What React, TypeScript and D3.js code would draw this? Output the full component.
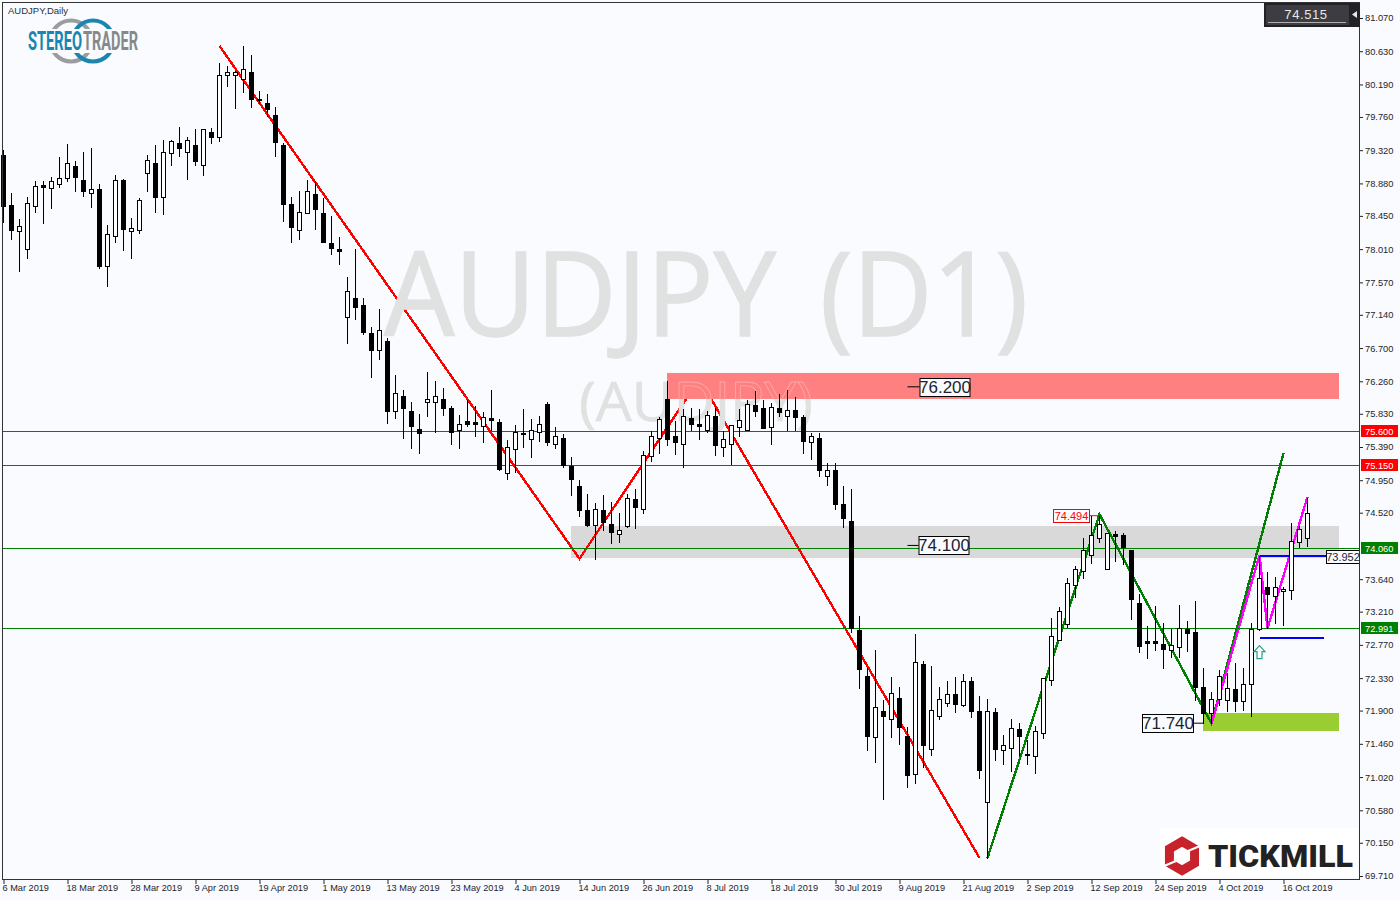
import React, { useRef, useEffect } from 'react';
import * as d3 from 'd3';

const BG = '#f9fbfe';
const FONT = '"Liberation Sans", sans-serif';

const opens = [79.25,78.59,78.25,78.01,78.58,78.86,78.82,78.87,78.95,79.11,78.92,78.75,78.80,77.78,78.18,78.92,78.25,78.26,79.02,79.15,78.70,79.28,79.41,79.29,79.39,79.13,79.56,79.49,80.31,80.31,80.26,80.35,80.00,79.94,79.78,79.39,78.61,78.26,78.49,78.74,78.49,78.09,78.01,77.11,77.36,77.27,76.90,76.67,76.79,75.87,76.07,75.87,75.63,75.99,75.99,76.02,75.90,75.61,75.74,75.72,75.67,75.78,75.72,75.05,75.37,75.58,75.50,75.59,75.96,75.43,75.51,75.14,74.88,74.55,74.36,74.56,74.37,74.24,74.35,74.70,74.57,75.27,75.51,76.03,75.53,75.43,75.78,75.69,75.61,75.80,75.39,75.43,75.66,75.62,75.94,75.90,75.66,75.90,75.80,75.88,75.79,75.45,75.51,75.00,75.08,74.63,74.41,72.97,72.36,71.55,71.89,71.79,72.07,71.56,71.06,72.52,71.39,71.83,72.00,72.12,71.97,72.29,71.89,70.69,71.88,71.38,71.40,71.66,71.32,71.30,71.60,72.30,72.84,73.05,73.56,73.75,73.96,74.19,73.78,74.24,74.23,74.03,73.33,72.82,72.82,72.78,72.70,72.74,72.98,72.94,72.21,71.87,72.05,72.04,72.19,72.03,72.25,72.98,73.54,73.42,73.48,73.50,74.13,74.19];
const highs = [79.33,78.76,78.42,78.71,78.92,78.92,78.98,79.24,79.41,79.19,79.31,79.36,78.88,78.34,79.00,78.95,78.43,78.70,79.27,79.40,79.47,79.47,79.64,79.51,79.61,79.60,79.63,80.49,80.45,80.38,80.71,80.59,80.12,80.08,79.90,79.43,78.71,78.79,78.94,78.92,78.70,78.46,78.18,77.66,78.03,77.37,76.99,77.23,76.85,76.36,76.16,76.00,75.84,76.39,76.28,76.19,75.94,75.83,76.02,75.95,75.87,76.16,75.78,75.49,75.70,75.90,75.78,75.82,76.00,75.67,75.58,75.27,74.97,74.78,74.66,74.77,74.68,74.53,74.78,74.85,75.35,75.62,75.80,76.28,75.75,75.91,75.92,75.90,75.88,75.92,75.62,75.70,75.91,76.02,76.15,76.02,75.99,76.11,76.16,76.07,75.83,75.59,75.59,75.19,75.19,74.89,74.85,73.17,72.48,72.72,72.05,72.36,72.22,71.70,72.93,72.57,72.50,72.22,72.31,72.36,72.40,72.36,72.11,72.07,71.95,71.59,71.80,71.75,71.52,71.71,72.34,73.14,73.29,73.67,73.83,74.20,74.49,74.49,74.27,74.29,74.27,74.04,73.46,73.03,73.30,73.07,72.99,73.31,73.10,73.36,72.48,72.16,72.45,72.41,72.54,72.48,73.07,73.96,73.75,73.68,73.55,74.40,74.36,74.73];
const lows = [78.37,78.14,77.72,77.89,78.50,78.35,78.55,78.83,78.91,78.78,78.71,78.57,77.76,77.52,78.11,78.00,77.89,78.22,78.78,78.50,78.47,79.13,79.24,78.94,79.12,78.99,79.41,79.44,80.17,79.88,80.09,79.89,79.94,79.77,79.24,78.38,78.10,78.15,78.49,78.27,78.11,77.94,77.81,76.77,77.09,76.88,76.32,76.55,75.71,75.78,75.51,75.38,75.31,75.80,75.59,75.82,75.43,75.38,75.67,75.54,75.45,75.61,75.08,74.96,75.06,75.39,75.26,75.47,75.41,75.38,75.13,74.76,74.47,74.35,73.91,74.29,74.12,74.13,74.33,74.32,74.52,75.21,75.31,75.42,75.30,75.12,75.61,75.49,75.59,75.29,75.27,75.17,75.53,75.61,75.80,75.64,75.43,75.80,75.62,75.61,75.31,75.23,75.01,74.89,74.57,74.33,72.94,72.20,71.38,71.22,70.73,71.55,71.46,70.89,70.94,71.15,71.31,71.79,71.96,71.88,71.96,71.82,71.01,69.95,71.24,71.19,71.10,71.31,71.19,71.07,71.54,72.24,72.84,73.01,73.41,73.66,73.86,74.13,73.78,73.88,73.84,73.11,72.68,72.60,72.70,72.46,72.61,72.61,72.69,72.04,71.73,71.73,71.97,71.89,71.89,71.91,71.83,72.97,72.99,73.06,73.03,73.38,74.06,74.08];
const closes = [78.58,78.26,78.31,78.62,78.84,78.83,78.91,78.95,79.15,78.96,78.78,78.80,77.78,78.21,78.92,78.27,78.29,78.66,79.19,78.70,79.29,79.44,79.35,79.45,79.18,79.60,79.49,80.31,80.35,80.35,80.39,80.00,79.98,79.86,79.43,78.61,78.30,78.50,78.78,78.54,78.11,78.02,77.98,77.45,77.25,76.91,76.68,76.94,75.87,76.11,75.91,75.67,75.57,76.03,76.06,75.91,75.59,75.69,75.69,75.70,75.79,75.75,75.10,75.39,75.59,75.57,75.62,75.70,75.46,75.54,75.15,74.96,74.55,74.36,74.57,74.40,74.27,74.29,74.72,74.59,75.29,75.53,75.76,75.50,75.46,75.80,75.70,75.67,75.82,75.42,75.49,75.68,75.75,75.96,75.87,75.64,75.92,75.86,75.88,75.79,75.47,75.54,75.09,75.08,74.63,74.45,72.99,72.45,71.56,71.95,71.83,72.13,71.68,71.05,72.54,71.44,71.91,72.05,72.12,71.99,72.29,71.89,71.11,71.89,71.39,71.44,71.67,71.56,71.31,71.63,72.33,72.89,73.22,73.59,73.78,74.03,74.23,74.37,74.25,74.21,74.06,73.38,72.76,72.80,72.80,72.72,72.77,72.99,72.93,72.21,71.87,72.05,72.36,72.20,72.03,72.25,72.98,73.66,73.44,73.54,73.51,74.15,74.31,74.515];

const priceTicks = [81.07,80.63,80.19,79.76,79.32,78.88,78.45,78.01,77.57,77.14,76.7,76.26,75.83,75.39,74.95,74.52,73.64,73.21,72.77,72.33,71.9,71.46,71.02,70.58,70.15,69.71];
const dateLabels = ['6 Mar 2019','18 Mar 2019','28 Mar 2019','9 Apr 2019','19 Apr 2019','1 May 2019','13 May 2019','23 May 2019','4 Jun 2019','14 Jun 2019','26 Jun 2019','8 Jul 2019','18 Jul 2019','30 Jul 2019','9 Aug 2019','21 Aug 2019','2 Sep 2019','12 Sep 2019','24 Sep 2019','4 Oct 2019','16 Oct 2019'];

// trend lines: [candle index, price]
const redLine: [number, number][] = [[27,80.70],[72,73.91],[87,76.29],[122,69.95]];
const greenLine: [number, number][] = [[123,69.95],[137,74.50],[151,71.73],[160,75.31]];
const pinkLine: [number, number][] = [[151,71.72],[157,73.96],[158,72.99],[163,74.73]];
const blueLines: [number, number, number][] = [[157,165.4,73.952],[157,165,72.86]];

const hLevels = [
  { price: 75.6, color: '#ff0000', label: '75.600' },
  { price: 75.15, color: '#ff0000', label: '75.150' },
  { price: 74.055, color: '#008000', label: '74.060' },
  { price: 72.991, color: '#008000', label: '72.991' },
];

const App: React.FC = () => {
  const svgRef = useRef<SVGSVGElement>(null);

  useEffect(() => {
    if (!svgRef.current) return;
    const svg = d3.select(svgRef.current);
    svg.selectAll('*').remove();

    const x = d3.scaleLinear().domain([0, 163]).range([3.5, 1307.5]);
    const y = d3.scaleLinear().domain([69.71, 81.07]).range([876, 18]);
    const py = (v: number) => Math.round(y(v)) + 0.5;

    svg.append('rect').attr('width', 1400).attr('height', 900).attr('fill', BG);

    // zones behind the lines
    svg.append('rect').attr('x', 571).attr('y', y(74.344)).attr('width', 768).attr('height', y(73.92) - y(74.344)).attr('fill', '#d9d9d9');
    svg.append('rect').attr('x', 1203).attr('y', y(71.868)).attr('width', 136).attr('height', y(71.63) - y(71.868)).attr('fill', '#9acd32');

    const line = d3.line<[number, number]>().x(d => x(d[0])).y(d => y(d[1]));
    const drawLine = (pts: [number, number][], color: string) =>
      svg.append('path').attr('d', line(pts)).attr('fill', 'none').attr('stroke', color).attr('stroke-width', 2.4).attr('shape-rendering', 'crispEdges');
    drawLine(redLine, '#ff0000');
    drawLine(greenLine, '#008000');
    drawLine(pinkLine, '#ff00ff');

    blueLines.forEach(([a, b, p]) => {
      svg.append('line').attr('x1', x(a)).attr('x2', x(b)).attr('y1', y(p)).attr('y2', y(p))
        .attr('stroke', '#0000ff').attr('stroke-width', 2).attr('shape-rendering', 'crispEdges');
    });

    // watermark
    const mark = svg.append('g').attr('font-family', '"Open Sans", sans-serif').attr('fill', '#e0e1e1').attr('stroke', '#e0e1e1');
    mark.append('text').attr('x', 384).attr('y', 336).attr('font-size', 118).attr('stroke-width', 1.5)
      .attr('textLength', 392).attr('lengthAdjust', 'spacingAndGlyphs').text('AUDJPY');
    mark.append('text').attr('x', 820).attr('y', 336).attr('font-size', 118).attr('stroke-width', 1.5)
      .attr('textLength', 208).attr('lengthAdjust', 'spacingAndGlyphs').text('(D1)');
    mark.append('text').attr('x', 579).attr('y', 421).attr('font-size', 54).attr('stroke-width', 0.6)
      .attr('textLength', 234).attr('lengthAdjust', 'spacingAndGlyphs').text('(AUDJPY)');

    const zoneTop = y(76.37);
    const zoneH = y(76.026) - y(76.37);
    svg.append('rect').attr('x', 667).attr('y', zoneTop).attr('width', 672).attr('height', zoneH).attr('fill', '#ff8080');
    // the letters still show faintly through the red zone
    svg.append('clipPath').attr('id', 'zone-clip').append('rect').attr('x', 667).attr('y', zoneTop).attr('width', 672).attr('height', zoneH);
    svg.append('text').attr('clip-path', 'url(#zone-clip)').attr('x', 579).attr('y', 421).attr('font-family', '"Open Sans", sans-serif').attr('font-size', 54)
      .attr('textLength', 234).attr('lengthAdjust', 'spacingAndGlyphs').attr('fill', 'none').attr('stroke', '#ffa6a6').attr('stroke-width', 0.8).text('(AUDJPY)');

    hLevels.forEach(l => {
      svg.append('rect').attr('x', 3).attr('width', 1357).attr('y', Math.round(y(l.price))).attr('height', 1).attr('fill', l.color);
    });

    // candles
    const candles = svg.append('g').attr('shape-rendering', 'crispEdges');
    opens.forEach((o, i) => {
      const c = closes[i];
      const top = py(Math.max(o, c));
      const bottom = py(Math.min(o, c));
      candles.append('line').attr('x1', x(i)).attr('x2', x(i)).attr('y1', py(highs[i])).attr('y2', py(lows[i])).attr('stroke', '#000');
      candles.append('rect').attr('x', x(i) - 2).attr('y', top).attr('width', 4).attr('height', Math.max(bottom - top, 1))
        .attr('fill', c > o ? '#fff' : '#000').attr('stroke', '#000');
    });

    // arrow
    const ax = x(157);
    const ay = y(72.76);
    const arrow = d3.path();
    arrow.moveTo(ax, ay);
    arrow.lineTo(ax + 5.5, ay + 6);
    arrow.lineTo(ax + 2.5, ay + 6);
    arrow.lineTo(ax + 2.5, ay + 13);
    arrow.lineTo(ax - 2.5, ay + 13);
    arrow.lineTo(ax - 2.5, ay + 6);
    arrow.lineTo(ax - 5.5, ay + 6);
    arrow.closePath();
    svg.append('path').attr('d', arrow.toString()).attr('fill', '#fff').attr('stroke', '#2a9d8f').attr('stroke-width', 1.2);

    // price labels with a tail
    const boxLabel = (p: number, tailFrom: number, tailTo: number, bx: number, bw: number, bh: number, dy: number, size: number, color: string, textColor: string) => {
      const cy = y(p) + dy;
      const t = svg.append('g');
      if (tailTo > tailFrom) t.append('line').attr('x1', tailFrom).attr('x2', tailTo).attr('y1', cy).attr('y2', cy).attr('stroke', color);
      t.append('rect').attr('x', bx + 0.5).attr('y', Math.round(cy - bh / 2) + 0.5).attr('width', bw).attr('height', bh)
        .attr('fill', BG).attr('stroke', color);
      t.append('text').attr('x', bx + bw / 2 + 0.5).attr('y', cy + 0.5).attr('text-anchor', 'middle').attr('dominant-baseline', 'central')
        .attr('font-family', FONT).attr('font-size', size).attr('fill', textColor).text(p.toFixed(3));
    };
    boxLabel(76.2, x(113), x(113) + 12, x(113) + 12, 50, 18, 1, 17, '#000', '#1c2430');
    boxLabel(74.1, x(113), x(113) + 11, x(113) + 11, 50, 18, 1, 17, '#000', '#1c2430');
    boxLabel(71.74, x(150) - 10, x(150), x(150) - 61.5, 51, 18, 0.5, 17, '#000', '#1c2430');
    boxLabel(74.494, x(137) - 10, x(137), x(137) - 46.5, 36, 13, 1, 11, '#ff0000', '#ff0000');
    boxLabel(73.952, 0, 0, 1326, 33, 13, 1, 11, '#000', '#1c2430');

    // axes
    const yAxis = d3.axisRight(y).tickValues(priceTicks).tickSize(3).tickFormat(d3.format('.3f') as any);
    const gy = svg.append('g').attr('transform', 'translate(1360,0)').call(yAxis);
    gy.select('.domain').remove();
    gy.selectAll('text').attr('x', 5).attr('font-family', FONT).attr('font-size', 9.3).attr('fill', '#1c2430');
    gy.selectAll('line').attr('stroke', '#222');

    const dateIdx = dateLabels.map((_, i) => i * 8);
    const xAxis = d3.axisBottom(x).tickValues(dateIdx).tickSize(4).tickFormat((_, i) => dateLabels[i]);
    const gx = svg.append('g').attr('transform', 'translate(0,880)').call(xAxis);
    gx.select('.domain').remove();
    gx.selectAll('text').attr('text-anchor', 'start').attr('x', -1.5).attr('y', 4).attr('dy', '0.71em')
      .attr('font-family', FONT).attr('font-size', 9.2).attr('fill', '#1c2430');
    gx.selectAll('line').attr('stroke', '#222');

    // frame
    const frame = svg.append('g').attr('stroke', '#333').attr('shape-rendering', 'crispEdges');
    frame.append('line').attr('x1', 2.5).attr('x2', 2.5).attr('y1', 2).attr('y2', 880);
    frame.append('line').attr('x1', 2).attr('x2', 1360).attr('y1', 2.5).attr('y2', 2.5);
    frame.append('line').attr('x1', 1359.5).attr('x2', 1359.5).attr('y1', 2).attr('y2', 880);
    frame.append('line').attr('x1', 2).attr('x2', 1360).attr('y1', 879.5).attr('y2', 879.5);

    // axis tags
    hLevels.forEach(l => {
      const cy = py(l.price);
      svg.append('rect').attr('x', 1361).attr('y', cy - 6.5).attr('width', 37).attr('height', 12).attr('fill', l.color);
      svg.append('text').attr('x', 1365).attr('y', cy).attr('dominant-baseline', 'central').attr('font-family', FONT)
        .attr('font-size', 9.3).attr('fill', '#fff').text(l.label);
    });

    // current price widget
    svg.append('rect').attr('x', 1264).attr('y', 3).attr('width', 96).attr('height', 24).attr('fill', '#222226');
    svg.append('rect').attr('x', 1266).attr('y', 5).attr('width', 83).attr('height', 20).attr('fill', '#3c3c42');
    svg.append('line').attr('x1', 1268).attr('x2', 1346).attr('y1', 22.5).attr('y2', 22.5).attr('stroke', '#b0b0b0');
    svg.append('text').attr('x', 1306).attr('y', 14.5).attr('text-anchor', 'middle').attr('dominant-baseline', 'central')
      .attr('font-family', FONT).attr('font-size', 13).attr('letter-spacing', 0.6).attr('fill', '#e8e8e8').text('74.515');
    svg.append('path').attr('d', 'M1352,14.5 L1357,11 L1357,18 Z').attr('fill', '#e8e8e8');

    // title
    svg.append('text').attr('x', 8).attr('y', 14).attr('font-family', FONT).attr('font-size', 9.5).attr('fill', '#2a2f3a').text('AUDJPY,Daily');

    // StereoTrader logo
    svg.append('circle').attr('cx', 71).attr('cy', 41).attr('r', 20.5).attr('fill', 'none').attr('stroke', '#9a9c9e').attr('stroke-width', 4);
    svg.append('circle').attr('cx', 93).attr('cy', 41).attr('r', 20.5).attr('fill', 'none').attr('stroke', '#1a86b0').attr('stroke-width', 4);
    svg.append('rect').attr('x', 26).attr('y', 29).attr('width', 114).attr('height', 24).attr('fill', BG);
    svg.append('text').attr('x', 28).attr('y', 50).attr('font-family', 'Roboto, sans-serif').attr('font-weight', 700).attr('font-size', 25)
      .attr('textLength', 54).attr('lengthAdjust', 'spacingAndGlyphs').attr('fill', '#1a86b0').text('STEREO');
    svg.append('text').attr('x', 83).attr('y', 50).attr('font-family', 'Roboto, sans-serif').attr('font-weight', 700).attr('font-size', 25)
      .attr('textLength', 55).attr('lengthAdjust', 'spacingAndGlyphs').attr('fill', '#85898c').text('TRADER');

    // Tickmill logo
    svg.append('rect').attr('x', 1160).attr('y', 828).attr('width', 198).attr('height', 50).attr('fill', '#fff');
    const hex = d3.range(6).map(k => {
      const a = Math.PI / 3 * k;
      return [1182 + 14.5 * Math.sin(a), 856 - 14.5 * Math.cos(a)] as [number, number];
    });
    svg.append('path').attr('d', d3.line()(hex) + 'Z').attr('fill', 'none').attr('stroke', '#c8232c').attr('stroke-width', 9).attr('stroke-linejoin', 'miter');
    svg.append('line').attr('x1', 1164).attr('x2', 1176).attr('y1', 866).attr('y2', 861).attr('stroke', '#fff').attr('stroke-width', 2);
    svg.append('line').attr('x1', 1188).attr('x2', 1200).attr('y1', 851).attr('y2', 846).attr('stroke', '#fff').attr('stroke-width', 2);
    svg.append('text').attr('x', 1208).attr('y', 867).attr('font-family', 'Roboto, sans-serif').attr('font-weight', 900).attr('font-size', 31)
      .attr('textLength', 145).attr('lengthAdjust', 'spacingAndGlyphs').attr('fill', '#222').text('TICKMILL');
  }, []);

  return <svg ref={svgRef} width={1400} height={900} style={{ position: 'absolute', left: 0, top: 0 }} />;
};

export default App;
